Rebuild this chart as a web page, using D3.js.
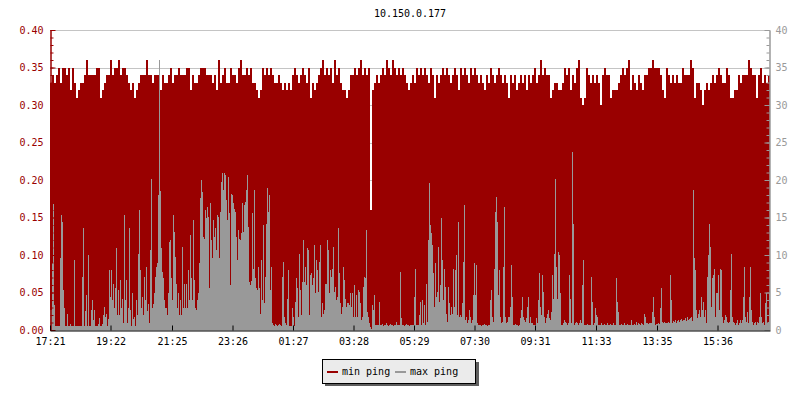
<!DOCTYPE html>
<html>
<head>
<meta charset="utf-8">
<script src="https://d3js.org/d3.v7.min.js"></script>
<style>
body { margin: 0; background: #fff; }
text { font-family: "DejaVu Sans Mono", monospace; font-size: 10px; }
</style>
</head>
<body>
<div id="chartContainer"></div>
<script type="text/javascript">

var chartTitle = "10.150.0.177";
var startTime = "17:21";
var minStep = 4;   // minutes between min ping samples
var maxStep = 2;   // minutes between max ping samples
var xTickLabels = ["17:21", "19:22", "21:25", "23:26", "01:27", "03:28", "05:29", "07:30", "09:31", "11:33", "13:35", "15:36"];
var leftTicks = [0, 0.05, 0.10, 0.15, 0.20, 0.25, 0.30, 0.35, 0.40];
var rightTicks = [0, 5, 10, 15, 20, 25, 30, 35, 40];
var seriesNames = ["min ping", "max ping"];

// min ping (left axis)
var minPing = [
  0.33,0.34,0.33,0.34,0.35,0.33,0.35,0.35,0.34,0.35,
  0.32,0.35,0.33,0.31,0.32,0.33,0.33,0.34,0.36,0.34,
  0.34,0.34,0.34,0.35,0.35,0.31,0.32,0.33,0.34,0.34,
  0.36,0.34,0.35,0.35,0.36,0.34,0.35,0.35,0.34,0.33,
  0.32,0.33,0.31,0.32,0.33,0.34,0.34,0.34,0.36,0.34,
  0.34,0.33,0.34,0.34,0.34,0.32,0.34,0.33,0.33,0.34,
  0.35,0.33,0.34,0.34,0.35,0.34,0.34,0.34,0.35,0.35,
  0.32,0.34,0.33,0.33,0.34,0.35,0.35,0.35,0.34,0.34,
  0.34,0.33,0.34,0.32,0.36,0.33,0.34,0.35,0.33,0.33,
  0.35,0.34,0.34,0.33,0.35,0.36,0.34,0.34,0.35,0.34,
  0.35,0.33,0.33,0.32,0.31,
  0.32,0.35,0.34,0.35,0.34,0.35,0.34,0.33,0.33,0.34,
  0.33,0.32,0.33,0.32,0.33,0.32,0.34,0.35,0.34,0.33,
  0.34,0.35,0.34,0.33,0.35,0.31,0.33,0.32,0.33,0.34,
  0.35,0.36,0.34,0.35,0.34,0.35,0.33,0.36,0.34,0.35,
  0.33,0.32,0.32,0.31,0.32,0.34,0.34,0.35,0.34,0.35,
  0.36,0.34,0.35,0.34,0.35,0.16,0.32,0.33,0.34,0.33,
  0.34,0.35,0.34,0.36,0.35,0.34,0.36,0.35,0.34,0.35,
  0.34,0.35,0.34,0.33,0.32,0.33,0.34,0.33,0.35,0.34,
  0.35,0.34,0.35,0.34,0.33,0.35,0.34,0.31,0.34,0.33,
  0.34,0.35,0.34,0.35,0.34,0.33,0.34,0.35,0.34,0.32,
  0.35,0.34,0.35,0.34,0.33,0.35,0.34,0.35,0.34,0.33,
  0.34,0.33,0.32,0.34,0.33,0.35,0.34,0.33,0.34,0.35,
  0.34,0.33,0.34,0.33,0.31,0.34,0.33,0.34,0.32,0.33,
  0.34,0.33,0.34,0.32,0.34,
  0.33,0.34,0.35,0.33,0.34,0.36,0.34,0.35,0.34,0.34,
  0.31,0.32,0.33,0.33,0.32,0.32,0.33,0.35,0.34,0.35,
  0.32,0.34,0.33,0.35,0.36,0.31,0.30,0.31,0.35,0.34,
  0.33,0.34,0.33,0.34,0.33,0.30,0.34,0.35,0.34,0.34,
  0.31,0.32,0.32,0.32,0.33,0.34,0.35,0.34,0.35,0.36,
  0.32,0.34,0.33,0.32,0.34,0.33,0.32,0.34,0.34,0.35,
  0.35,0.36,0.35,0.35,0.35,0.34,0.32,0.31,0.35,0.34,
  0.33,0.34,0.33,0.34,0.33,0.33,0.35,0.34,0.34,0.34,
  0.36,0.35,0.31,0.33,0.33,0.32,0.30,0.32,0.33,0.32,
  0.33,0.34,0.33,0.34,0.35,0.34,0.33,0.33,0.35,0.34,
  0.31,0.31,0.32,0.32,0.34,0.33,0.34,0.34,0.34,0.36,
  0.35,0.34,0.34,0.31,0.34,0.35,0.33,0.34,0.33,0.34
];

// max ping (right axis)
var maxPing = [
  2.7,2.7,8.9,16.8,3.3,0.5,0.5,0.5,0.5,0.5,
  9.6,15.3,14.4,5.3,2.9,0.5,0.5,2.2,0.5,0.5,
  0.8,0.5,0.5,0.5,9.4,0.5,0.5,0.6,0.5,0.5,
  0.5,0.5,7.1,13.6,0.5,2.5,4.7,0.5,10,0.5,
  0.5,2.7,4,1.3,2.7,0.5,0.5,0.5,0.8,1.6,
  0.5,0.5,0.8,2,3.1,1.8,2.2,0.5,1.5,8,
  4.4,8,4,6.2,3,5.6,10.9,2,5.3,2,
  6.7,3,4.2,1,15.3,4,6.7,1,3,13.6,
  2.7,0.5,4.9,1.5,1.8,0.5,4,2,10.2,16,
  8,3,4.4,2,7.1,4,8.4,2.5,3.5,1,
  10.7,20.2,3,3.5,4.9,7.1,8.4,9,18,36,
  18.5,11,7.8,7,4,3,3,2,5,11.8,
  12,7,4,15.3,13.1,9.8,6.2,3,5,2,
  4,2,11.1,3,6.2,3,6.2,3,8,4,
  12.7,7,4,14.7,6.7,3,2.7,4,5,9,
  17.6,20,18.4,12.4,12.2,16,14.9,16.4,15.1,5.6,
  16.9,12,9.6,14.7,12.4,13.6,10.7,15.3,15.1,9.6,
  15.8,19.8,20.9,18.7,21,20.7,17.3,14.7,20.4,15.6,
  6,18.2,18,16.9,16.2,15.8,12.4,9.3,13.3,12.2,
  12,12.9,16.9,13.1,16.7,17.1,18.7,20.7,13.8,6.4,
  6,6.5,15.6,8.2,18.7,7,5.6,5.3,8.4,5.6,
  2.2,9.3,4,14,3.6,7.1,14.2,18.9,15.8,18,
  5.3,8.4,0.9,0.7,0.6,0.8,0.7,0.6,0.7,0.8,
  0.7,0.6,7.1,9.1,1.8,0.9,0.7,4.2,8,0.6,
  0.6,0.6,2.9,1.8,0.6,3.8,6.9,5.6,1.8,10.2,
  5.3,2,6.4,12,6.4,8.4,6,10.9,10.7,2,
  7.3,7.6,6,6.9,11.3,4.9,9.3,8,5.1,9.1,
  11.3,1.8,3.6,2.2,2.7,6.2,6.2,12,10.7,4.9,
  8,7.1,8.2,11.1,5.1,5.8,4,4.4,13.6,7.6,
  3.6,2.2,3.1,8.4,6.7,4.2,3.1,3.6,3.6,3.3,
  4.9,3.1,4.9,1.8,6,1.8,4.7,1.8,5.3,5.1,
  3.6,1.3,1.8,5.8,7.1,6.9,13.3,2.4,1.8,0.9,
  0.4,0.1,3.3,2.7,4.7,0.7,0.7,0.7,0.7,3.8,
  0.7,0.7,0.8,0.6,0.7,0.7,0.9,0.7,0.6,0.7,
  0.8,0.7,0.7,0.6,0.7,0.7,1.1,0.7,0.7,0.7,
  7.8,1.6,0.7,0.7,0.6,0.7,0.8,0.7,0.7,0.6,
  0.7,0.7,0.7,0.7,4.4,8.2,0.7,0.7,0.7,2,
  3.8,0.7,4,0.9,3.3,0.7,6.2,1.1,12,19.6,
  14,12.9,11.3,7.6,3.1,8.9,4.4,5.1,11.1,3.8,
  6,14.9,9.3,4,8.2,5.8,2.2,1.1,5.8,3.6,
  2,3.1,2.2,8.2,3.1,8,10,2,14.4,1.8,
  2,1.8,3.6,9.1,16.7,1.3,1.8,0.9,1.3,2.7,
  1.8,0.9,1.3,4.7,8.9,4.7,8.7,0.9,0.7,0.7,
  0.7,0.6,0.7,0.7,0.8,0.7,0.7,0.6,0.7,0.7,
  4,5.3,1.8,1.1,8.2,15.8,17.8,14.4,4.7,8,
  1.8,0.9,1.1,8.4,16.4,1.8,0.9,1.1,1.8,1.8,
  3.1,8.7,4.4,0.7,0.7,0.8,0.7,0.7,0.6,0.7,
  1.6,2.7,4.4,1.8,1.3,1.1,1.6,3.1,4.4,0.9,
  1.8,0.9,0.9,0.7,0.7,0.7,1.6,0.9,4,7.6,
  3.1,2,7.3,5.1,1.8,0.9,1.6,2.2,2.7,1.6,
  1.3,2.4,7.3,4.2,10.2,20.2,8.4,4.2,10.4,10,
  4.9,0.7,0.7,0.9,1.3,1.1,0.9,0.7,0.9,7.3,
  4.2,0.9,23.7,14.2,0.7,0.9,1.1,0.9,0.7,0.9,
  1.3,0.9,6,9.3,0.7,0.7,0.7,0.8,0.7,0.7,
  0.7,7.1,3.8,0.7,0.9,2.9,2,1.8,0.7,0.7,
  0.7,0.9,0.7,0.7,0.8,0.7,0.7,0.9,0.7,0.7,
  0.8,0.7,0.7,0.9,0.7,0.7,6.9,3.8,2.4,0.7,
  0.7,0.8,0.7,0.7,0.9,0.7,0.7,0.8,0.7,0.7,
  0.7,1.3,0.7,0.7,0.8,0.7,1.1,0.7,0.9,0.8,
  0.7,0.9,0.8,0.7,2.2,1.8,0.9,0.9,0.8,0.9,
  0.9,0.9,2.4,4.4,1.8,0.7,0.8,0.8,0.9,0.8,
  2.9,5.6,1.1,0.9,1.1,0.9,1,0.9,1.1,0.9,
  7.3,4,1,1.2,1.1,1.3,1,1.2,1.4,1.1,
  1.3,1.5,1.2,1.4,1.3,1.6,1.2,1.8,1.4,1.5,
  1.6,1.8,1.2,18.7,9.6,8,2.7,1.6,2.2,2.7,
  1.8,4.4,2.7,3.8,1.8,2.7,0.9,7.1,10,14.2,
  11.1,3.1,6.9,7.3,8.2,1.8,4.9,4.9,7.3,2.7,
  8.2,8,1.8,0.9,1.3,2,1.8,1.1,0.9,1.1,
  5.3,10.2,1.8,1.1,0.9,0.7,0.9,1.3,0.7,0.9,
  1.3,0.9,1.3,4.4,8.4,1.8,1.1,2.4,0.9,4.4,
  8.4,2.7,1.1,0.7,0.9,1.1,0.7,1.1,0.9,1.8,
  4.9,1.8,0.9,1.1,0.7,3.6,5,0.9,1.1,4.9
];

var red = "#990000", grey = "#999999";

var svg = d3.select("#chartContainer").append("svg")
    .attr("width", 800)
    .attr("height", 400);

var parse = d3.timeParse("%H:%M");
var t0 = parse(startTime);
var t1 = d3.timeMinute.offset(t0, 24 * 60);

var x = d3.scaleTime().domain([t0, t1]).range([50, 770]);
var yL = d3.scaleLinear().domain([0, 0.4]).range([330, 30]);
var yR = d3.scaleLinear().domain([0, 40]).range([330, 30]);

// labels after midnight belong to the next day
function tickDate(s) {
  var d = parse(s);
  if (d < t0) d = d3.timeDay.offset(d, 1);
  return d;
}

function toPoints(values, step) {
  var pts = values.map(function (v, i) {
    return { t: d3.timeMinute.offset(t0, i * step), v: v };
  });
  // closing point so the last step reaches the right edge
  pts.push({ t: t1, v: values[values.length - 1] });
  return pts;
}

// grid
svg.append("g").selectAll("line")
  .data(leftTicks)
  .join("line")
    .attr("x1", 50).attr("x2", 770)
    .attr("y1", function (d) { return Math.round(yL(d)) + 0.5; })
    .attr("y2", function (d) { return Math.round(yL(d)) + 0.5; })
    .attr("stroke", "#c4c4c4");

// series
svg.append("path")
  .datum(toPoints(minPing, minStep))
  .attr("fill", red)
  .attr("shape-rendering", "crispEdges")
  .attr("d", d3.area().curve(d3.curveStepAfter)
    .x(function (d) { return x(d.t); })
    .y0(330)
    .y1(function (d) { return yL(d.v); }));

svg.append("path")
  .datum(toPoints(maxPing, maxStep))
  .attr("fill", grey)
  .attr("shape-rendering", "crispEdges")
  .attr("d", d3.area().curve(d3.curveStepAfter)
    .x(function (d) { return x(d.t); })
    .y0(330)
    .y1(function (d) { return yR(d.v); }));

// left axis
var gL = svg.append("g").attr("transform", "translate(50.5,0)");
gL.append("g").call(d3.axisLeft(yL).tickValues(d3.range(0, 41).map(function (i) { return i / 100; }))
    .tickSize(-3).tickSizeOuter(0).tickFormat(""));
gL.append("g").call(d3.axisLeft(yL).tickValues(leftTicks)
    .tickSize(-5).tickSizeOuter(0).tickPadding(7).tickFormat(d3.format(".2f")));
gL.selectAll("path, line").attr("stroke", red);
gL.selectAll("text").attr("fill", red).style("font-family", "DejaVu Sans Mono").style("font-size", "10px");

// right axis
var gR = svg.append("g").attr("transform", "translate(769.5,0)");
gR.append("g").call(d3.axisRight(yR).tickValues(d3.range(0, 41))
    .tickSize(-3).tickSizeOuter(0).tickFormat(""));
gR.append("g").call(d3.axisRight(yR).tickValues(rightTicks)
    .tickSize(-5).tickSizeOuter(0).tickPadding(6));
gR.selectAll("path, line").attr("stroke", grey);
gR.selectAll("text").attr("fill", grey).style("font-family", "DejaVu Sans Mono").style("font-size", "10px");

// time axis
var gX = svg.append("g").attr("transform", "translate(0,330.5)");
gX.call(d3.axisBottom(x).tickValues(xTickLabels.map(tickDate))
    .tickSize(-5).tickSizeOuter(0).tickPadding(7).tickFormat(d3.timeFormat("%H:%M")));
gX.selectAll("path, line").attr("stroke", "#000");
gX.selectAll("text").attr("fill", "#000").style("font-family", "DejaVu Sans Mono").style("font-size", "10px");

// title
svg.append("text")
  .attr("x", 410)
  .attr("y", 17)
  .style("text-anchor", "middle")
  .text(chartTitle);

// legend
var lg = svg.append("g").attr("transform", "translate(322,359)");
lg.append("rect").attr("x", 3).attr("y", 3).attr("width", 154).attr("height", 24).attr("fill", "#5e5e5e");
lg.append("rect").attr("x", 0.5).attr("y", 0.5).attr("width", 153).attr("height", 24)
  .attr("fill", "#ebebeb").attr("stroke", "#000");
var items = lg.selectAll("g.item")
  .data(seriesNames)
  .join("g")
    .attr("class", "item")
    .attr("transform", function (d, i) { return "translate(" + (5 + i * 68) + ",0)"; });
items.append("rect")
  .attr("x", 0).attr("y", 12).attr("width", 11).attr("height", 2)
  .attr("fill", function (d, i) { return i === 0 ? red : grey; });
items.append("text")
  .attr("x", 15).attr("y", 16)
  .text(function (d) { return d; });

</script>
</body>
</html>
